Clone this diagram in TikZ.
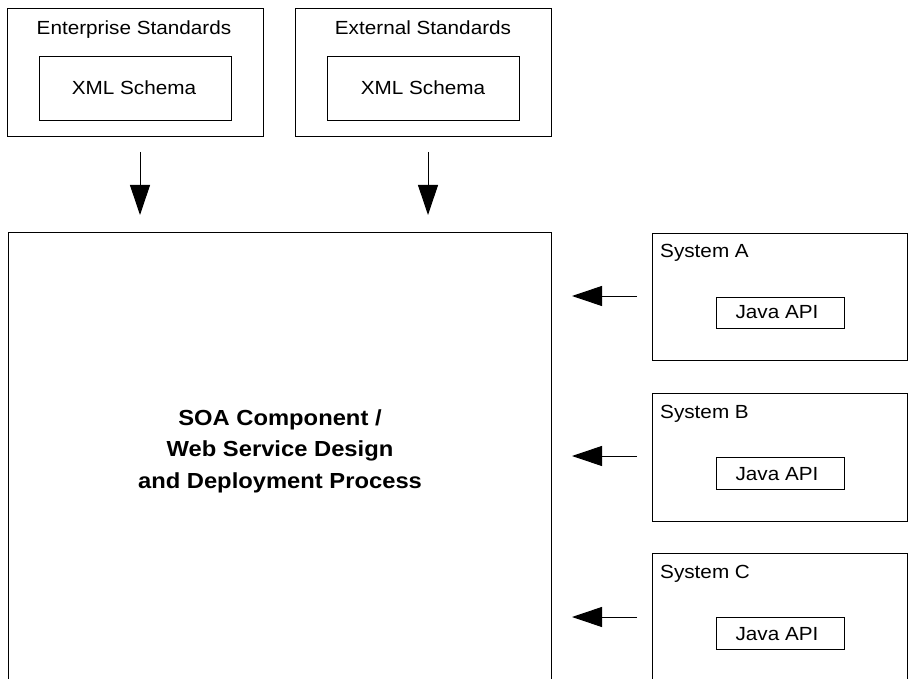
\documentclass[tikz,border=0pt]{standalone}
\usepackage{fontspec}
\setmainfont{Liberation Sans}[FakeStretch=1.09]
\usetikzlibrary{arrows.meta}
\begin{document}
\begin{tikzpicture}[x=1pt,y=-1pt,
  box/.style={draw, line width=1.3pt, inner sep=0pt, anchor=north west},
  lbl/.style={inner sep=0pt, font=\fontsize{19}{23}\selectfont},
  arr/.style={line width=1pt, -{Triangle[length=30pt,width=20pt]}}]
\useasboundingbox (0,0) rectangle (908,679);
\clip (0,0) rectangle (908,679);
% top boxes
\node[box, minimum width=256pt, minimum height=128pt] (ent) at (7,8) {};
\node[box, minimum width=192pt, minimum height=64pt] (entx) at (39,56) {};
\node[box, minimum width=256pt, minimum height=128pt] (ext) at (295,8) {};
\node[box, minimum width=192pt, minimum height=64pt] (extx) at (327,56) {};
\node[lbl, anchor=base] (entt) at (134,35) {Enterprise Standards};
\node[lbl, anchor=base] (entxt) at (134,95) {XML Schema};
\node[lbl, anchor=base] (extt) at (423,35) {External Standards};
\node[lbl, anchor=base] (extxt) at (423,95) {XML Schema};
% main box
\node[box, minimum width=543pt, minimum height=480pt] (main) at (8,232) {};
\node[inner sep=0pt, align=center, font=\bfseries\fontsize{21.8}{31.5}\selectfont] (maint) at (280,451)
  {SOA Component /\\Web Service Design\\and Deployment Process};
% systems
\node[box, minimum width=255pt, minimum height=127pt] (sa) at (652,233) {};
\node[box, minimum width=128pt, minimum height=31pt] (saj) at (716,297) {};
\node[box, minimum width=255pt, minimum height=128pt] (sb) at (652,393) {};
\node[box, minimum width=128pt, minimum height=32pt] (sbj) at (716,457) {};
\node[box, minimum width=255pt, minimum height=160pt] (sc) at (652,553) {};
\node[box, minimum width=128pt, minimum height=32pt] (scj) at (716,617) {};
\node[lbl, anchor=base west] (sat) at (660,258) {System A};
\node[lbl, anchor=base west] (sbt) at (660,418) {System B};
\node[lbl, anchor=base west] (sct) at (660,578) {System C};
\node[lbl, anchor=base] (sajt) at (777,319) {Java API};
\node[lbl, anchor=base] (sbjt) at (777,480) {Java API};
\node[lbl, anchor=base] (scjt) at (777,640) {Java API};
% arrows
\coordinate (a1s) at (140,152); \coordinate (a1e) at (140,215);
\coordinate (a2s) at (428,152); \coordinate (a2e) at (428,215);
\coordinate (b1s) at (637,296); \coordinate (b1e) at (572,296);
\coordinate (b2s) at (637,456); \coordinate (b2e) at (572,456);
\coordinate (b3s) at (637,617); \coordinate (b3e) at (572,617);
\draw[arr] (a1s) -- (a1e);
\draw[arr] (a2s) -- (a2e);
\draw[arr] (b1s) -- (b1e);
\draw[arr] (b2s) -- (b2e);
\draw[arr] (b3s) -- (b3e);
\end{tikzpicture}
\end{document}
